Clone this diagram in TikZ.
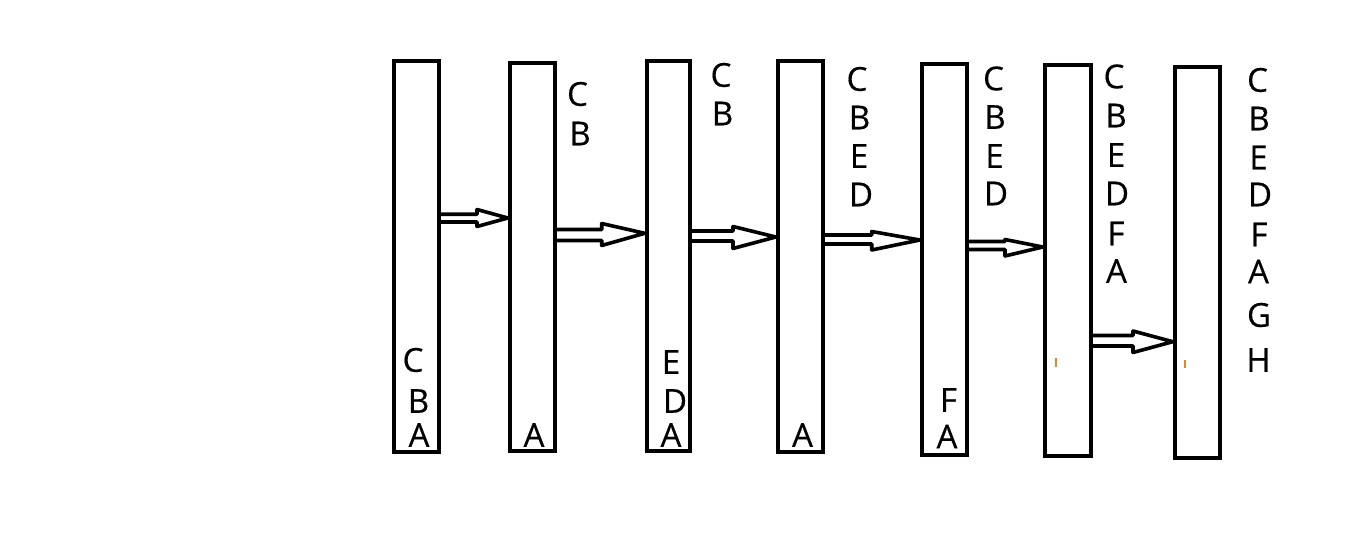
\documentclass[tikz,border=0pt]{standalone}
\usepackage{fontspec}
\setmainfont{Open Sans}
\newfontfamily\lblfont[FakeBold=0.4]{Open Sans}
\begin{document}
\begin{tikzpicture}[x=1pt,y=-1pt,
  box/.style={draw,line width=4.4pt,minimum width=45pt,minimum height=391pt,inner sep=0pt},
  lbl/.style={inner sep=0pt,font=\lblfont\fontsize{33}{33}\selectfont},
  harrow/.style={draw,line width=3.6pt,line join=round},
  speck/.style={draw={rgb,255:red,225;green,135;blue,40},line width=1.2pt}]
\useasboundingbox (0,0) rectangle (1360,545);
% boxes
\node[box] (b1) at (416.5,256.5) {};
\node[box,minimum height=388pt] (b2) at (532.5,257) {};
\node[box,minimum width=43pt,minimum height=390pt] (b3) at (668.5,256) {};
\node[box] (b4) at (800.5,256.5) {};
\node[box] (b5) at (944.5,259.5) {};
\node[box,minimum width=46pt] (b6) at (1068,260.5) {};
\node[box] (b7) at (1197.5,262.5) {};
% letters inside boxes
\node[lbl] (i1c) at (413,360) {C};
\node[lbl] (i1b) at (418.5,401) {B};
\node[lbl] (i1a) at (419,435) {A};
\node[lbl] (i2a) at (534,435) {A};
\node[lbl] (i3e) at (671,362) {E};
\node[lbl] (i3d) at (675,401) {D};
\node[lbl] (i3a) at (671,435) {A};
\node[lbl] (i4a) at (802.5,435) {A};
\node[lbl] (i5f) at (948.5,400) {F};
\node[lbl] (i5a) at (947,436.5) {A};
% labels right of boxes
\node[lbl] (r2c) at (577.5,94) {C};
\node[lbl] (r2b) at (580,133.5) {B};
\node[lbl] (r3c) at (721,75) {C};
\node[lbl] (r3b) at (722.5,113.5) {B};
\node[lbl] (r4c) at (857,79) {C};
\node[lbl] (r4b) at (859.5,117.5) {B};
\node[lbl] (r4e) at (859,156) {E};
\node[lbl] (r4d) at (861,194.5) {D};
\node[lbl] (r5c) at (993.5,78.5) {C};
\node[lbl] (r5b) at (995,117) {B};
\node[lbl] (r5e) at (994.5,156) {E};
\node[lbl] (r5d) at (996,193.5) {D};
\node[lbl] (r6c) at (1114,76.5) {C};
\node[lbl] (r6b) at (1116,115.5) {B};
\node[lbl] (r6e) at (1116,155) {E};
\node[lbl] (r6d) at (1117,193.5) {D};
\node[lbl] (r6f) at (1116,233.5) {F};
\node[lbl] (r6a) at (1116.5,271) {A};
\node[lbl] (r7c) at (1257.5,80) {C};
\node[lbl] (r7b) at (1259,118.5) {B};
\node[lbl] (r7e) at (1258.5,157.5) {E};
\node[lbl] (r7d) at (1260,194.5) {D};
\node[lbl] (r7f) at (1259,234.5) {F};
\node[lbl] (r7a) at (1258.5,271.5) {A};
\node[lbl] (r7g) at (1259,315) {G};
\node[lbl] (r7h) at (1258.5,360) {H};
% hollow arrows
\draw[harrow] (b1.east |- 0,214.3) -- (477,214.3) -- (477,209.5) -- (b2.west |- 0,218) -- (477,226.5) -- (477,222) -- (b1.east |- 0,222);
\draw[harrow] (b2.east |- 0,229.5) -- (601.7,229.5) -- (601.7,223.5) -- (b3.west |- 0,233.3) -- (601.7,245.5) -- (601.7,240.5) -- (b2.east |- 0,240.5);
\draw[harrow] (b3.east |- 0,231) -- (733,231) -- (733,226.5) -- (b4.west |- 0,237) -- (733,248.5) -- (733,241) -- (b3.east |- 0,241);
\draw[harrow] (b4.east |- 0,235) -- (871.7,235) -- (871.7,231.5) -- (b5.west |- 0,240) -- (871.7,250) -- (871.7,244) -- (b4.east |- 0,244);
\draw[harrow] (b5.east |- 0,241.5) -- (1005,241.5) -- (1005,239.5) -- (b6.west |- 0,247) -- (1005,256) -- (1005,249.5) -- (b5.east |- 0,249.5);
\draw[harrow] (b6.east |- 0,335.5) -- (1133,335.5) -- (1133,331) -- (b7.west |- 0,341.7) -- (1133,352.5) -- (1133,346) -- (b6.east |- 0,346);
% small specks
\draw[speck] (1056,358) -- (1056,367);
\draw[speck] (1185,360) -- (1185,368);
\end{tikzpicture}
\end{document}
